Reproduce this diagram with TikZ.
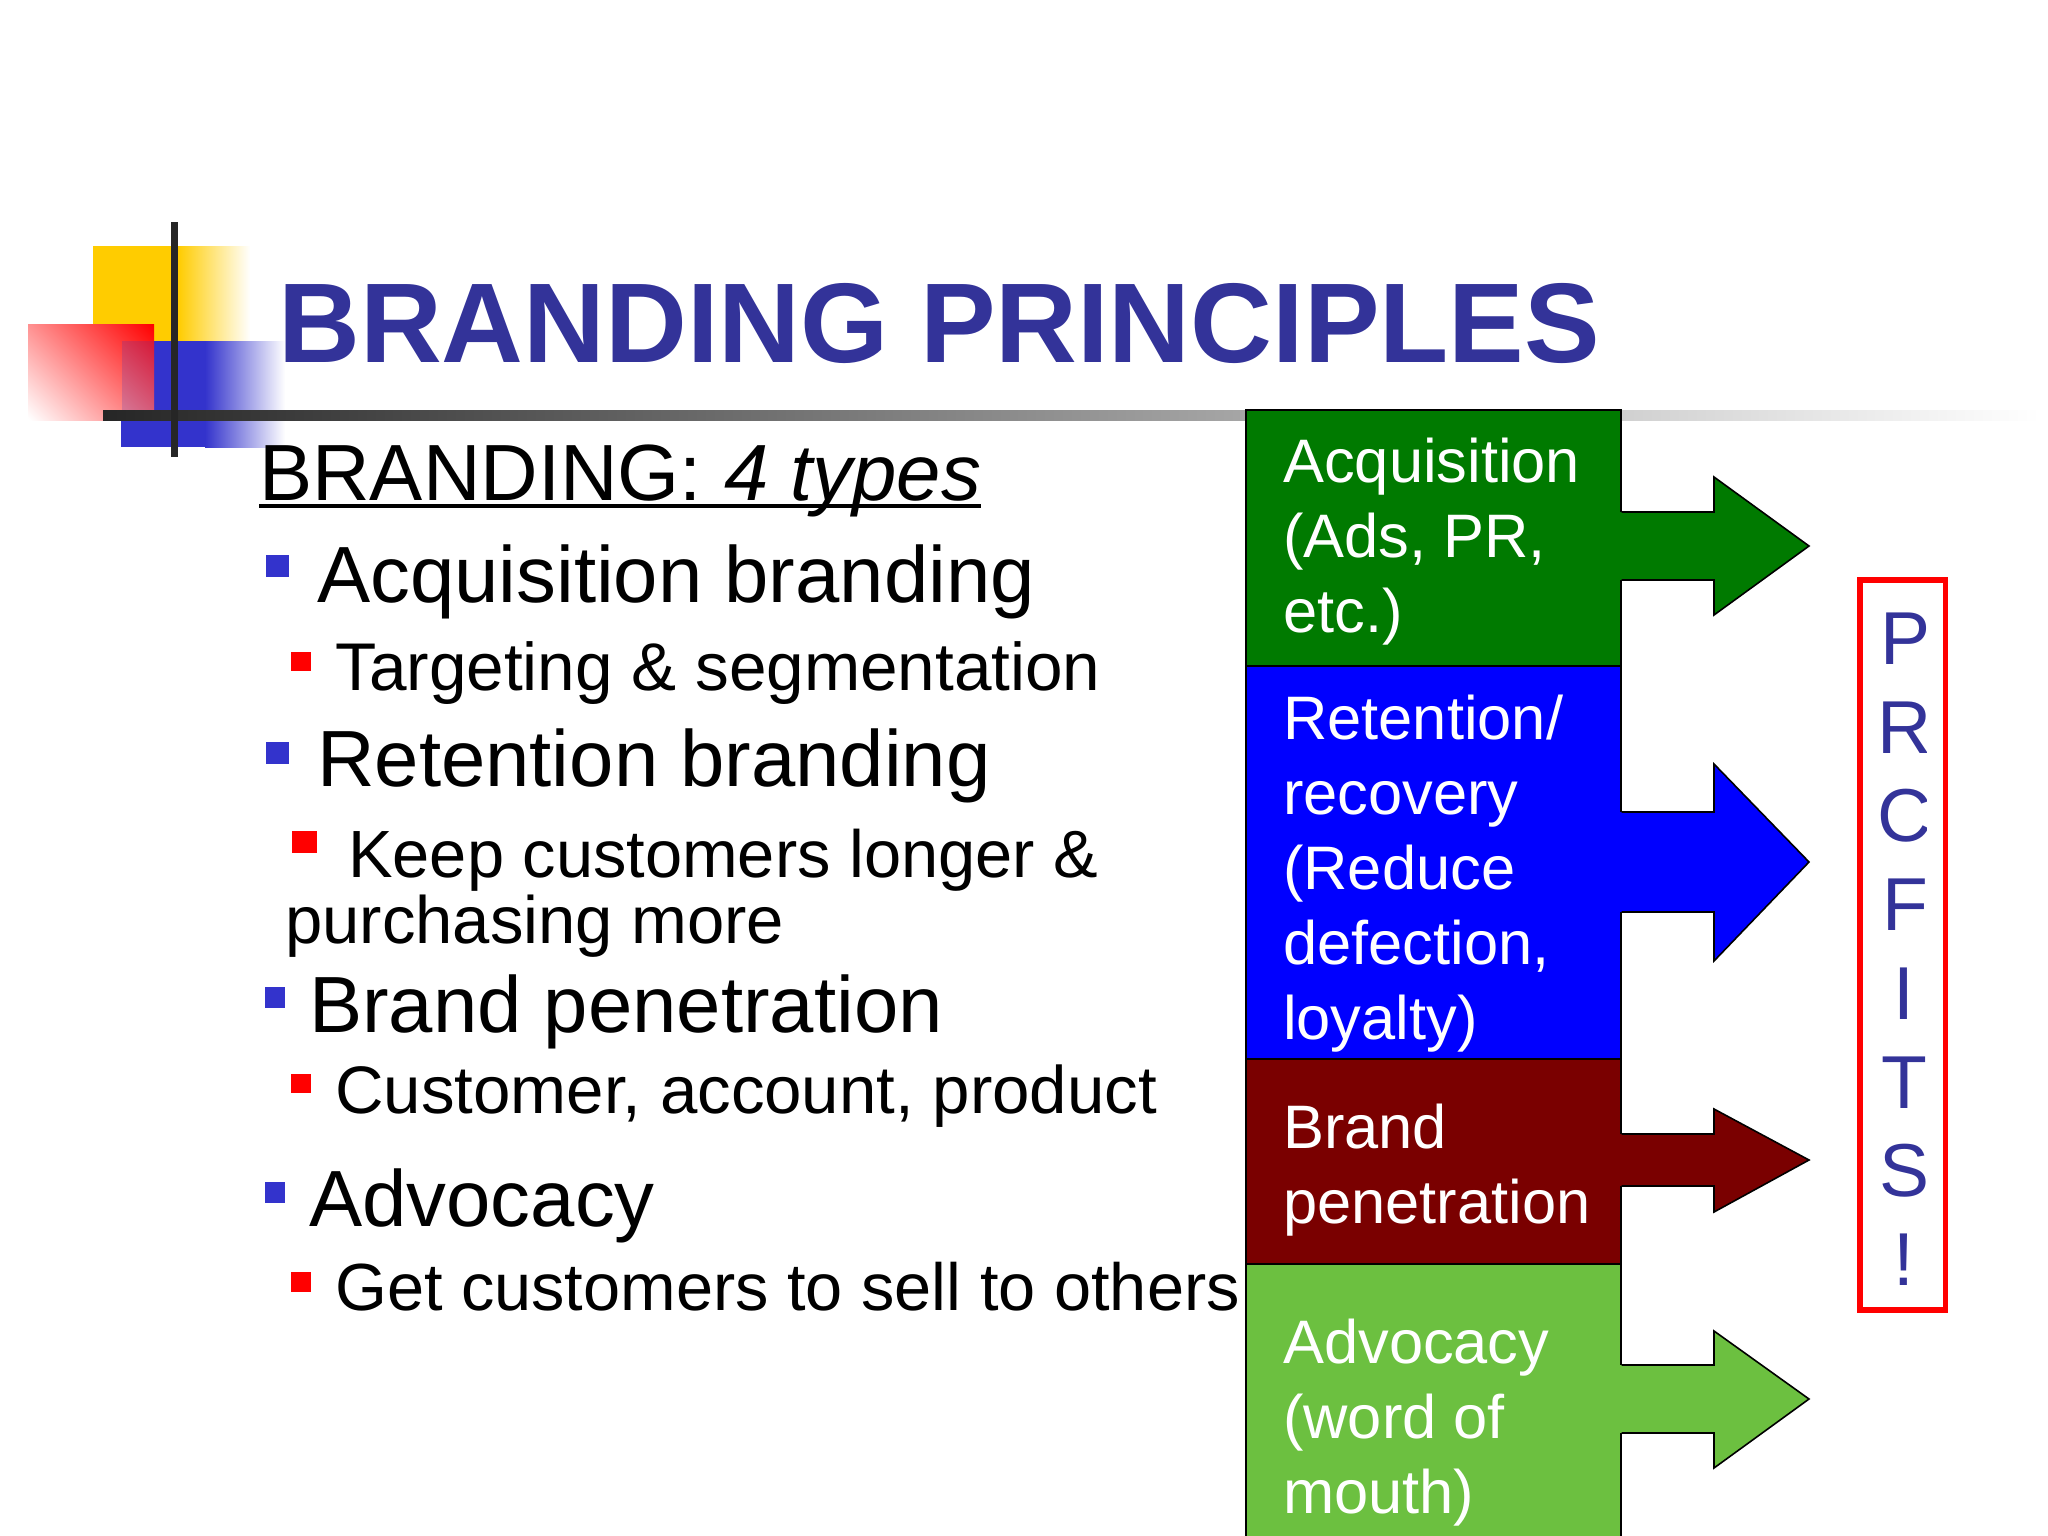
\documentclass[tikz,border=0pt]{standalone}
\usepackage{fontspec}
\setmainfont{Liberation Sans}
\definecolor{ttl}{HTML}{333399}
\definecolor{ylw}{HTML}{FFCC00}
\definecolor{blu}{HTML}{3333CC}
\definecolor{bargrey}{HTML}{262626}
\definecolor{cgreen}{HTML}{007A00}
\definecolor{cblue}{HTML}{0000FF}
\definecolor{cmaroon}{HTML}{7A0000}
\definecolor{clime}{HTML}{6CC040}
\pgfdeclareverticalshading{redramp}{100bp}{color(0bp)=(white); color(15bp)=(white); color(85bp)=(red); color(100bp)=(red)}
\newcommand\fs[2]{\fontsize{#1}{#2}\selectfont}
\newcommand\blockarrow[7]{%
  \coordinate (ta) at (1714,#3); \coordinate (tb) at (1714,#4);
  \fill[#2] ([xshift=-3pt]#1.east |- ta) rectangle ([xshift=3pt]#1.east |- tb);
  \filldraw[arrowline,fill=#2] (#1.east |- ta) -- (ta) -- (1714,#5) -- (1809,#7) -- (1714,#6) -- (tb) -- (#1.east |- tb);
}
\tikzset{
  x=1pt,y=-1pt,
  big/.style={anchor=base west,inner sep=0pt,font=\fs{79.7}{90}},
  small/.style={anchor=base west,inner sep=0pt,font=\fs{67}{66}},
  colbox/.style={draw=black,line width=1.6pt,minimum width=375pt,inner sep=0pt,anchor=north west},
  boxtext/.style={anchor=base west,inner sep=0pt,align=left,text=white,font=\fs{61.4}{75}},
  arrowline/.style={draw=black,line width=1.6pt,line join=miter},
  blubullet/.style={fill=blu},
  redbullet/.style={fill=red},
  profit/.style={anchor=base,inner sep=0pt,text=ttl,font=\fs{75}{70}},
}
\begin{document}
\begin{tikzpicture}
\useasboundingbox (0,0) rectangle (2048,1536);
% decorative squares
\fill[ylw] (93,246) rectangle (178,341);
\shade[left color=ylw,right color=white] (178,246) rectangle (250,341);
\fill[blu] (121,341) rectangle (205,447);
\shade[left color=blu,right color=white] (205,341) rectangle (285,447);
\shade[shading=redramp,shading angle=-45] (28,324) rectangle (154,420);
\fill[blu,opacity=.2] (122,341) rectangle (154,420);
% rules
\shade[left color=bargrey,middle color=black!45,right color=white] (103,410) rectangle (2040,420);
\fill[bargrey] (171,222) rectangle (178,457);
% title
\node[anchor=base west,inner sep=0pt,text=ttl,font=\fs{113.3}{115}\bfseries] (title) at (278,362) {BRANDING PRINCIPLES};
% left text
\node[big] (hd) at (259,500) {BRANDING: \textit{4 types}};
\draw[line width=3.5pt] ([yshift=-6pt]hd.base west) -- ([yshift=-6pt]hd.base east);
\node[big] (t1) at (317,602) {Acquisition branding};
\node[small,font=\fs{67.5}{66}] (t2) at (335,690) {Targeting \& segmentation};
\node[big] (t3) at (317,786) {Retention branding};
\node[small,font=\fs{66.8}{66}] (t4) at (348,877) {Keep customers longer \&};
\node[small] (t5) at (285,943) {purchasing more};
\node[big] (t6) at (309,1032) {Brand penetration};
\node[small,font=\fs{67.2}{66}] (t7) at (335,1113) {Customer, account, product};
\node[big] (t8) at (309,1226) {Advocacy};
\node[small,font=\fs{66.7}{66}] (t9) at (335,1310) {Get customers to sell to others};
% bullets
\fill[blubullet] (266,555) rectangle (289,577);
\fill[redbullet] (291,652) rectangle (311,671);
\fill[blubullet] (266,742) rectangle (289,764);
\fill[redbullet] (292,831) rectangle (317,853);
\fill[blubullet] (265,987) rectangle (285,1008);
\fill[redbullet] (291,1074) rectangle (311,1093);
\fill[blubullet] (265,1182) rectangle (285,1203);
\fill[redbullet] (291,1272) rectangle (311,1292);
% colour boxes
\node[colbox,fill=cgreen,minimum height=256pt] (acq) at (1245,409) {};
\node[colbox,fill=cblue,minimum height=393pt] (ret) at (1245,665) {};
\node[colbox,fill=cmaroon,minimum height=205pt] (bra) at (1245,1058) {};
\node[colbox,fill=clime,minimum height=273pt] (adv) at (1245,1263) {};
\blockarrow{acq}{cgreen}{512}{580}{477}{615}{546}
\blockarrow{ret}{cblue}{812}{912}{764}{961}{862}
\blockarrow{bra}{cmaroon}{1134}{1186}{1109}{1212}{1160}
\blockarrow{adv}{clime}{1365}{1433}{1331}{1468}{1399}
\node[boxtext] (acqt) at (1283,632) {Acquisition\\(Ads, PR,\\etc.)};
\node[boxtext] (rett) at (1283,1039) {Retention/\\recovery\\(Reduce\\defection,\\loyalty)};
\node[boxtext] (brat) at (1283,1223) {Brand\\penetration};
\node[boxtext] (advt) at (1283,1513) {Advocacy\\(word of\\mouth)};
% profits
\node[draw=red,line width=5.5pt,outer sep=0pt,minimum width=85.5pt,minimum height=730pt,anchor=north west,inner sep=0pt] (pbox) at (1860,580) {};
\begin{scope}
\clip (1860,580) rectangle (1926.7,1310);
\node[profit] (p1) at (1905,664) {P};
\node[profit] (p2) at (1905,753) {R};
\node[profit] (p3) at (1905,841) {C};
\node[profit] (p4) at (1905,930) {F};
\node[profit] (p5) at (1904,1019) {I};
\node[profit] (p6) at (1904,1108) {T};
\node[profit] (p7) at (1904,1196) {S};
\node[profit] (p8) at (1904,1285) {!};
\end{scope}
\end{tikzpicture}
\end{document}
